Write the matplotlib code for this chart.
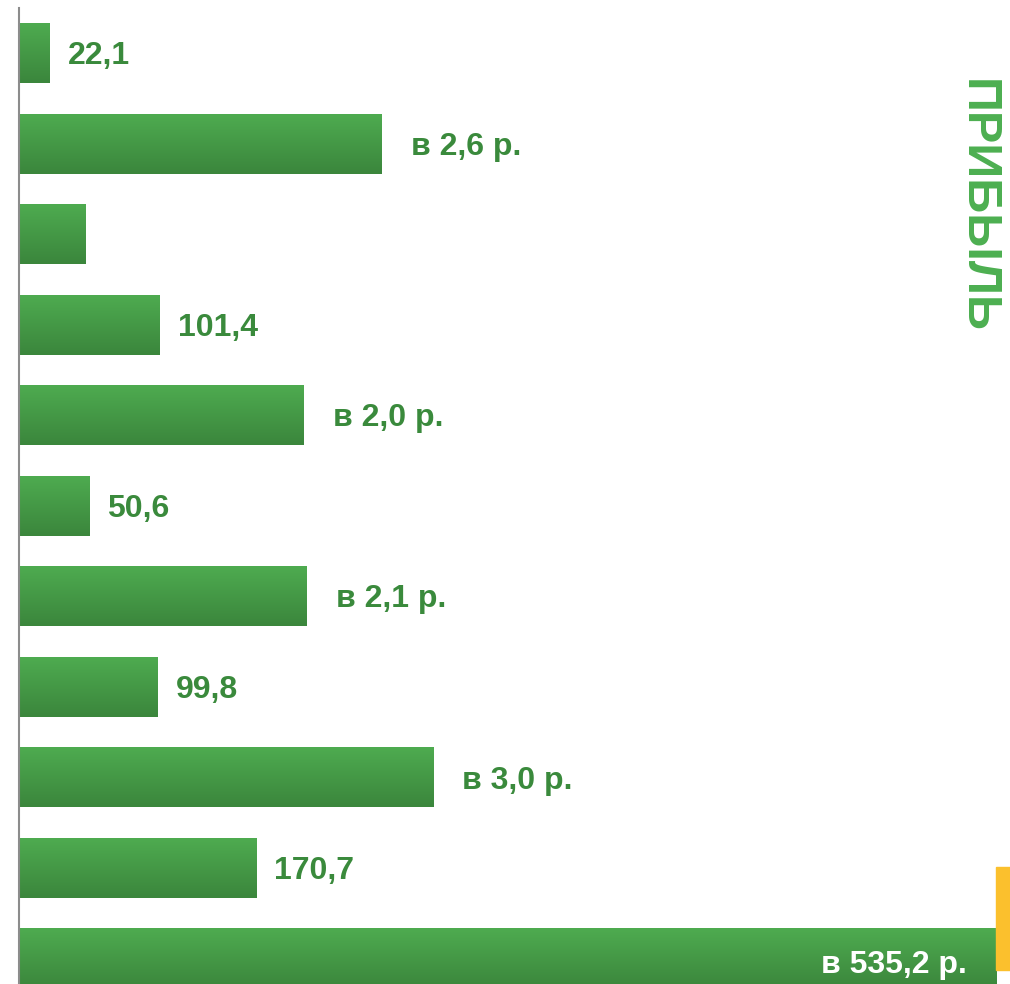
import numpy as np
import matplotlib
matplotlib.use('Agg')
import matplotlib.pyplot as plt
from matplotlib.patches import Rectangle

# bar lengths (arbitrary units) and their labels
values = [22.1, 261.0, 47.5, 101.4, 205.0, 50.6, 207.0, 99.8, 298.0, 170.7, 703.0]
labels = ["22,1", "в 2,6 р.", "", "101,4", "в 2,0 р.", "50,6",
          "в 2,1 р.", "99,8", "в 3,0 р.", "170,7", "в 535,2 р."]
title = "ПРИБЫЛЬ"

W, H = 1010, 984
DPI = 100
GREEN_TOP = np.array([0x4e, 0xab, 0x50]) / 255
GREEN_BOT = np.array([0x3b, 0x86, 0x3c]) / 255
LABEL_GREEN = "#3a8a3c"

plt.rcParams['font.family'] = ['Liberation Sans', 'DejaVu Sans']

fig = plt.figure(figsize=(W / DPI, H / DPI), dpi=DPI)
ax_left, ax_top = 19, 8
ax = fig.add_axes([ax_left / W, 0, (W - ax_left) / W, (H - ax_top) / H])

px_per_unit = 1.39
y = np.arange(len(values))
bars = ax.barh(y, values, height=0.657, color='none', edgecolor='none')

# vertical gradient inside each bar
grad = np.linspace(0, 1, 64)[:, None, None]
grad_img = GREEN_TOP * (1 - grad) + GREEN_BOT * grad
for b in bars:
    x0, y0 = b.get_x(), b.get_y()
    w, h = b.get_width(), b.get_height()
    ax.imshow(grad_img, extent=(x0, x0 + w, y0 + h, y0), aspect='auto',
              interpolation='bilinear', zorder=2)

ax.set_xlim(0, (W - ax_left) / px_per_unit)
ax.set_ylim(10.28, -0.5)

# value labels
for i, (v, lab) in enumerate(zip(values, labels)):
    if not lab:
        continue
    if i == len(values) - 1:
        ax.annotate(lab, (v, i), xytext=(-29, -6), textcoords='offset pixels',
                    ha='right', va='center', color='white', fontsize=23,
                    fontweight='bold', zorder=3)
    else:
        off = 29 if lab.startswith("в") else 18
        ax.annotate(lab, (v, i), xytext=(off, -3), textcoords='offset pixels',
                    ha='left', va='center', color=LABEL_GREEN, fontsize=23,
                    fontweight='bold', zorder=3)

for s in ['top', 'right', 'bottom']:
    ax.spines[s].set_visible(False)
ax.spines['left'].set_color('#8c8c8c')
ax.spines['left'].set_linewidth(1.5)
ax.set_xticks([])
ax.set_yticks([])

fig.text(977 / W, 1 - 206 / H, title, rotation=-90, ha='center', va='center',
         color='#4caf50', fontsize=35, fontweight='bold')

# yellow marker at the right of the long bar
fig.patches.append(Rectangle((996 / W, 1 - 970 / H), 14 / W, 103 / H,
                             transform=fig.transFigure, color='#fbc02d'))

fig.savefig('out.png', dpi=DPI)
